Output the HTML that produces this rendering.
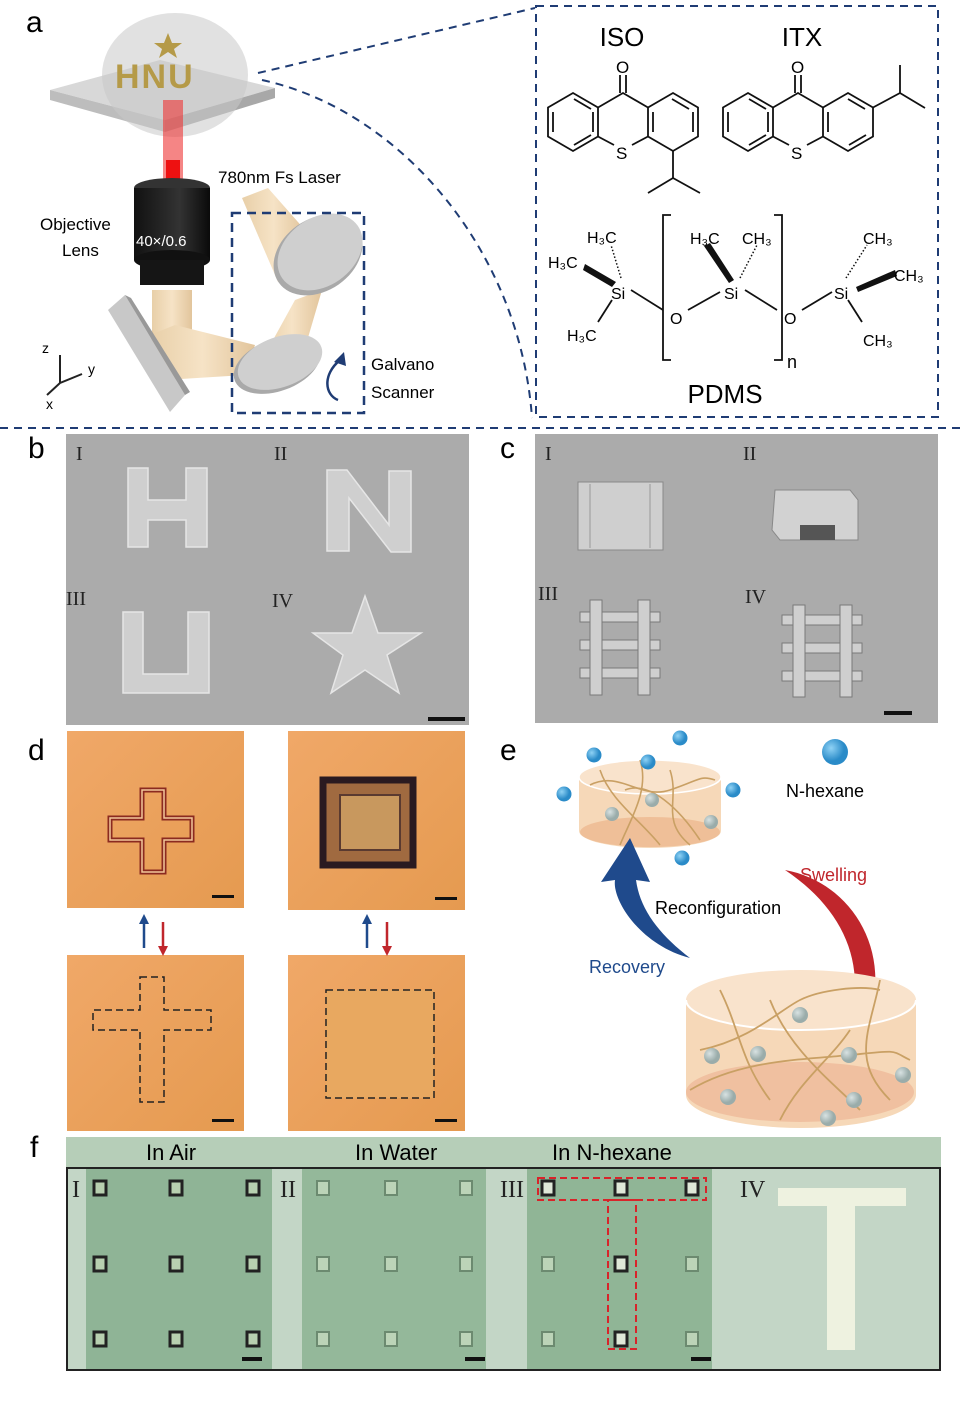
<!DOCTYPE html>
<html><head><meta charset="utf-8"><style>
html,body{margin:0;padding:0;background:#fff}
svg{display:block}
text{font-family:"Liberation Sans",sans-serif}
text.ser{font-family:"Liberation Serif",serif}
</style></head><body>
<svg width="960" height="1425" viewBox="0 0 960 1425" xmlns="http://www.w3.org/2000/svg">
<defs>
<linearGradient id="beam" x1="0" x2="1"><stop offset="0" stop-color="#e8cfa8"/><stop offset="0.5" stop-color="#f6e3c6"/><stop offset="1" stop-color="#e2c59c"/></linearGradient>
<linearGradient id="obj" x1="0" x2="1"><stop offset="0" stop-color="#111"/><stop offset="0.6" stop-color="#333"/><stop offset="1" stop-color="#0a0a0a"/></linearGradient>
<radialGradient id="ball" cx="0.35" cy="0.35"><stop offset="0" stop-color="#8fd2f5"/><stop offset="1" stop-color="#2a8bc8"/></radialGradient>
<radialGradient id="gball" cx="0.35" cy="0.35"><stop offset="0" stop-color="#d8e2e2"/><stop offset="1" stop-color="#9aacaa"/></radialGradient>
<linearGradient id="org" x1="0" y1="0" x2="1" y2="1"><stop offset="0" stop-color="#f0a868"/><stop offset="1" stop-color="#e59a50"/></linearGradient>
</defs>

<!-- ===== Panel a ===== -->
<text x="26" y="32" font-size="30">a</text>
<polygon points="50,90 160,60 275,88 165,120" fill="#d8d8d8"/>
<polygon points="50,90 165,120 165,132 50,100" fill="#bdbdbd"/>
<polygon points="165,120 275,88 275,98 165,132" fill="#a8a8a8"/>
<ellipse cx="175" cy="75" rx="73" ry="62" fill="#c9c9c9" opacity="0.55"/>
<text x="115" y="88" font-size="34" font-weight="bold" fill="#b59a48" letter-spacing="2">HNU</text>
<polygon points="168,33 172,43 182,43 174,49 177,58 168,52 159,58 162,49 154,43 164,43" fill="#b59a48"/>
<rect x="163" y="100" width="20" height="80" fill="#e33" opacity="0.6"/>
<rect x="166" y="160" width="14" height="25" fill="#e11"/>
<ellipse cx="172" cy="188" rx="38" ry="10" fill="#333"/>
<rect x="134" y="188" width="76" height="72" fill="url(#obj)"/>
<ellipse cx="172" cy="260" rx="38" ry="10" fill="#111"/>
<rect x="140" y="260" width="64" height="25" fill="#151515"/>
<text x="136" y="246" font-size="15" fill="#fff">40×/0.6</text>
<text x="40" y="230" font-size="17">Objective</text>
<text x="62" y="256" font-size="17">Lens</text>
<text x="218" y="183" font-size="17">780nm Fs Laser</text>
<g fill="url(#beam)">
<polygon points="152,290 192,290 192,350 152,350"/>
<polygon points="150,335 175,325 255,345 245,375 165,380"/>
<polygon points="242,198 268,188 305,230 305,260 278,282"/>
<polygon points="295,300 322,290 300,365 262,360"/>
</g>
<polygon points="108,310 125,295 185,395 170,412" fill="#c8c8c8"/>
<polygon points="125,295 131,298 190,392 185,395" fill="#999"/>
<ellipse cx="318" cy="255" rx="48" ry="36" transform="rotate(-35 318 255)" fill="#a9a9a9"/>
<ellipse cx="320" cy="252" rx="46" ry="34" transform="rotate(-35 320 252)" fill="#cfcfcf"/>
<ellipse cx="277" cy="365" rx="45" ry="26" transform="rotate(-20 277 365)" fill="#a9a9a9"/>
<ellipse cx="280" cy="362" rx="44" ry="25" transform="rotate(-20 280 362)" fill="#cfcfcf"/>
<rect x="232" y="213" width="132" height="200" fill="none" stroke="#1f3c74" stroke-width="2.5" stroke-dasharray="9,6"/>
<path d="M338,400 C325,395 322,375 340,360" fill="none" stroke="#1f3c74" stroke-width="2.5"/>
<polygon points="344,352 346,366 334,362" fill="#1f3c74"/>
<text x="371" y="370" font-size="17">Galvano</text>
<text x="371" y="398" font-size="17">Scanner</text>
<g stroke="#222" stroke-width="2" fill="none"><line x1="60" y1="383" x2="60" y2="355"/><line x1="60" y1="383" x2="82" y2="374"/><line x1="60" y1="383" x2="47" y2="395"/></g>
<text x="42" y="353" font-size="14">z</text><text x="88" y="374" font-size="14">y</text><text x="46" y="409" font-size="14">x</text>
<path d="M258,73 L535,8" stroke="#1f3c74" stroke-width="2" stroke-dasharray="8,6" fill="none"/>
<path d="M262,80 C400,110 520,250 532,418" stroke="#1f3c74" stroke-width="2" stroke-dasharray="8,6" fill="none"/>
<rect x="536" y="6" width="402" height="411" fill="none" stroke="#1f3c74" stroke-width="2" stroke-dasharray="8,6"/>
<line x1="0" y1="428" x2="960" y2="428" stroke="#1f3c74" stroke-width="2" stroke-dasharray="8,6"/>

<!-- chemistry -->
<g font-size="26" text-anchor="middle"><text x="622" y="46">ISO</text><text x="802" y="46">ITX</text></g>
<g stroke="#111" stroke-width="1.8" fill="none">
<!-- ISO: centers 573,623,673 ; cy 122 r 29 -->
<polygon points="573,93 598,107.5 598,136.5 573,151 548,136.5 548,107.5"/>
<polygon points="673,93 698,107.5 698,136.5 673,151 648,136.5 648,107.5"/>
<polyline points="598,107.5 623,93 648,107.5"/>
<polyline points="598,136.5 614,145"/><polyline points="648,136.5 632,145"/>
<line x1="620" y1="75" x2="620" y2="93"/><line x1="626" y1="75" x2="626" y2="93"/>
<line x1="553" y1="112" x2="553" y2="132"/><line x1="574" y1="99" x2="591" y2="109"/><line x1="574" y1="145" x2="591" y2="135"/>
<line x1="593" y1="112" x2="593" y2="132"/><line x1="653" y1="112" x2="653" y2="132"/>
<line x1="672" y1="99" x2="689" y2="109"/><line x1="693" y1="112" x2="693" y2="132"/>
<line x1="673" y1="151" x2="673" y2="178"/><polyline points="648,193 673,178 700,193"/>
<!-- ITX: centers 748,798,848 -->
<polygon points="748,93 773,107.5 773,136.5 748,151 723,136.5 723,107.5"/>
<polygon points="848,93 873,107.5 873,136.5 848,151 823,136.5 823,107.5"/>
<polyline points="773,107.5 798,93 823,107.5"/>
<polyline points="773,136.5 789,145"/><polyline points="823,136.5 807,145"/>
<line x1="795" y1="75" x2="795" y2="93"/><line x1="801" y1="75" x2="801" y2="93"/>
<line x1="728" y1="112" x2="728" y2="132"/><line x1="749" y1="99" x2="766" y2="109"/><line x1="749" y1="145" x2="766" y2="135"/>
<line x1="768" y1="112" x2="768" y2="132"/><line x1="828" y1="112" x2="828" y2="132"/>
<line x1="848" y1="99" x2="865" y2="109"/><line x1="849" y1="145" x2="866" y2="135"/>
<polyline points="873,107.5 900,93 925,108"/><line x1="900" y1="93" x2="900" y2="65"/>
<!-- PDMS -->
<line x1="612" y1="300" x2="598" y2="322"/>
<line x1="631" y1="290" x2="663" y2="310"/>
<line x1="688" y1="310" x2="720" y2="292"/>
<line x1="745" y1="290" x2="777" y2="310"/>
<line x1="802" y1="310" x2="832" y2="292"/>
<line x1="848" y1="300" x2="862" y2="322"/>
<path d="M671,215 H663 V360 H671 M774,215 H782 V360 H774"/>
</g>
<g stroke="#111" stroke-width="1.5" stroke-dasharray="1.5,2">
<line x1="621" y1="278" x2="611" y2="245"/><line x1="740" y1="278" x2="757" y2="245"/><line x1="846" y1="278" x2="867" y2="245"/>
</g>
<polygon points="583,270 585,264 616,282 612,287" fill="#111"/>
<polygon points="704,246 710,243 734,280 729,283" fill="#111"/>
<polygon points="856,287 895,270 897,276 858,292" fill="#111"/>
<g font-size="16">
<text x="587" y="243">H₃C</text><text x="548" y="268">H₃C</text><text x="567" y="341">H₃C</text>
<text x="611" y="299">Si</text><text x="670" y="324">O</text><text x="724" y="299">Si</text>
<text x="690" y="244">H₃C</text><text x="742" y="244">CH₃</text>
<text x="784" y="324">O</text><text x="834" y="299">Si</text>
<text x="863" y="244">CH₃</text><text x="894" y="281">CH₃</text><text x="863" y="346">CH₃</text>
</g>
<text x="787" y="368" font-size="18">n</text>
<text x="616" y="159" font-size="17">S</text><text x="616" y="73" font-size="17">O</text>
<text x="791" y="159" font-size="17">S</text><text x="791" y="73" font-size="17">O</text>
<text x="725" y="403" font-size="26" text-anchor="middle">PDMS</text>

<!-- ===== Panel b ===== -->
<text x="28" y="458" font-size="30">b</text>
<rect x="66" y="434" width="403" height="291" fill="#ababab"/>
<g font-size="20" fill="#222">
<text class="ser" x="76" y="460">I</text><text class="ser" x="274" y="460">II</text><text class="ser" x="66" y="605">III</text><text class="ser" x="272" y="607">IV</text>
</g>
<g fill="#cfcfcf" stroke="#e6e6e6" stroke-width="1.5">
<path d="M128,468 h20 v32 h38 v-32 h21 v79 h-21 v-27 h-38 v27 h-20z"/>
<path d="M327,470 h20 l42,55 v-54 h22 v81 h-20 l-42,-54 v53 h-22z"/>
<path d="M123,612 h20 v62 h45 v-62 h21 v81 h-86z"/>
<polygon points="365,596 378,633 421,633 387,655 399,693 365,670 331,693 343,655 313,633 352,633"/>
</g>
<rect x="428" y="717" width="37" height="4" fill="#111"/>

<!-- ===== Panel c ===== -->
<text x="500" y="458" font-size="30">c</text>
<rect x="535" y="434" width="403" height="289" fill="#ababab"/>
<g font-size="20" fill="#222">
<text class="ser" x="545" y="460">I</text><text class="ser" x="743" y="460">II</text><text class="ser" x="538" y="600">III</text><text class="ser" x="745" y="603">IV</text>
</g>
<rect x="578" y="482" width="85" height="68" fill="#cfcfcf" stroke="#888"/>
<g stroke="#999"><line x1="590" y1="484" x2="590" y2="548"/><line x1="650" y1="484" x2="650" y2="548"/></g>
<polygon points="775,490 850,490 858,500 858,540 780,540 772,530" fill="#d2d2d2" stroke="#888"/>
<rect x="800" y="525" width="35" height="15" fill="#555"/>
<g fill="#cfcfcf" stroke="#7a7a7a">
<rect x="580" y="612" width="80" height="10"/><rect x="580" y="640" width="80" height="10"/><rect x="580" y="668" width="80" height="10"/>
<rect x="590" y="600" width="12" height="95"/><rect x="638" y="600" width="12" height="95"/>
<rect x="782" y="615" width="80" height="10"/><rect x="782" y="643" width="80" height="10"/><rect x="782" y="671" width="80" height="10"/>
<rect x="793" y="605" width="12" height="92"/><rect x="840" y="605" width="12" height="92"/>
</g>
<rect x="884" y="711" width="28" height="4" fill="#111"/>

<!-- ===== Panel d ===== -->
<text x="28" y="760" font-size="30">d</text>
<rect x="67" y="731" width="177" height="177" fill="url(#org)"/>
<rect x="288" y="731" width="177" height="179" fill="url(#org)"/>
<rect x="67" y="955" width="177" height="176" fill="url(#org)"/>
<rect x="288" y="955" width="177" height="176" fill="url(#org)"/>
<path d="M142,790 h22 v28 h28 v22 h-28 v32 h-22 v-32 h-32 v-22 h32z" fill="none" stroke="#8b2a20" stroke-width="5"/>
<path d="M142,790 h22 v28 h28 v22 h-28 v32 h-22 v-32 h-32 v-22 h32z" fill="none" stroke="#f3c89a" stroke-width="1.5"/>
<rect x="323" y="780" width="90" height="85" fill="#a06a40" stroke="#2a1a20" stroke-width="7"/>
<rect x="340" y="795" width="60" height="55" fill="#c8985e" stroke="#5a3a30" stroke-width="2"/>
<path d="M140,977 h24 v33 h47 v20 h-47 v72 h-24 v-72 h-47 v-20 h47z" fill="none" stroke="#222" stroke-width="1.5" stroke-dasharray="7,4"/>
<rect x="326" y="990" width="108" height="108" fill="#e8a860" stroke="#222" stroke-width="1.5" stroke-dasharray="7,4"/>
<g fill="#111"><rect x="212" y="895" width="22" height="3"/><rect x="435" y="897" width="22" height="3"/><rect x="212" y="1119" width="22" height="3"/><rect x="435" y="1119" width="22" height="3"/></g>
<g stroke-width="2.5"><line x1="144" y1="948" x2="144" y2="922" stroke="#1f4a8c"/><line x1="163" y1="922" x2="163" y2="948" stroke="#c0262c"/>
<line x1="367" y1="948" x2="367" y2="922" stroke="#1f4a8c"/><line x1="387" y1="922" x2="387" y2="948" stroke="#c0262c"/></g>
<polygon points="139,924 149,924 144,914" fill="#1f4a8c"/><polygon points="158,946 168,946 163,956" fill="#c0262c"/>
<polygon points="362,924 372,924 367,914" fill="#1f4a8c"/><polygon points="382,946 392,946 387,956" fill="#c0262c"/>

<!-- ===== Panel e ===== -->
<text x="500" y="760" font-size="30">e</text>
<path d="M579,780 V831 A71,17 0 0 0 721,831 V780" fill="#f6d8b8"/>
<ellipse cx="650" cy="832" rx="70" ry="15" fill="#efbf98"/>
<ellipse cx="650" cy="777" rx="71" ry="17" fill="#f9e3cc" stroke="#fff" stroke-width="1.5"/>
<g stroke="#c9a064" stroke-width="1.6" fill="none">
<path d="M590,785 C620,770 640,800 670,790 S700,775 715,780"/>
<path d="M600,770 C610,800 640,820 660,845"/>
<path d="M625,790 C650,780 680,810 700,840"/>
<path d="M640,760 C650,790 630,820 620,845"/>
<path d="M670,770 C680,800 660,820 690,845"/>
</g>
<g fill="url(#gball)"><circle cx="652" cy="800" r="7"/><circle cx="612" cy="814" r="7"/><circle cx="711" cy="822" r="7"/></g>
<g fill="url(#ball)"><circle cx="680" cy="738" r="7.5"/><circle cx="594" cy="755" r="7.5"/><circle cx="648" cy="762" r="7.5"/><circle cx="564" cy="794" r="7.5"/><circle cx="733" cy="790" r="7.5"/><circle cx="682" cy="858" r="7.5"/><circle cx="835" cy="752" r="13"/></g>
<text x="786" y="797" font-size="18">N-hexane</text>
<path d="M690,958 C640,945 612,900 615,880 L601,882 L630,838 L650,882 L636,880 C640,910 660,935 690,958z" fill="#1f4a8c"/>
<path d="M785,870 C840,880 880,930 875,990 L893,985 L858,1040 L840,982 L855,985 C855,940 830,900 785,870z" fill="#c0262c"/>
<text x="655" y="914" font-size="18">Reconfiguration</text>
<text x="589" y="973" font-size="18" fill="#1f4a8c">Recovery</text>
<text x="800" y="881" font-size="18" fill="#c0262c">Swelling</text>
<path d="M686,1000 V1095 A115,33 0 0 0 916,1095 V1000" fill="#f6d8b8"/>
<ellipse cx="800" cy="1092" rx="114" ry="30" fill="#f0c0a0"/>
<ellipse cx="801" cy="1000" rx="115" ry="30" fill="#f9e3cc"/>
<path d="M686,1000 A115,30 0 0 0 916,1000" fill="none" stroke="#fff" stroke-width="2"/>
<g stroke="#c9a064" stroke-width="1.8" fill="none">
<path d="M700,1050 C750,1040 780,1010 800,1000 S860,985 880,990"/>
<path d="M690,1090 C740,1060 800,1060 850,1055 S890,1050 910,1060"/>
<path d="M720,990 C740,1030 740,1060 770,1100"/>
<path d="M770,1000 C790,1050 830,1080 860,1110"/>
<path d="M850,1030 C830,1060 800,1080 780,1120"/>
<path d="M880,980 C870,1030 850,1060 890,1100"/>
</g>
<g fill="url(#gball)"><circle cx="800" cy="1015" r="8"/><circle cx="712" cy="1056" r="8"/><circle cx="758" cy="1054" r="8"/><circle cx="849" cy="1055" r="8"/><circle cx="903" cy="1075" r="8"/><circle cx="728" cy="1097" r="8"/><circle cx="854" cy="1100" r="8"/><circle cx="828" cy="1118" r="8"/></g>

<!-- ===== Panel f ===== -->
<text x="30" y="1157" font-size="30">f</text>
<rect x="66" y="1137" width="875" height="31" fill="#b6ceb8"/>
<g font-size="22"><text x="146" y="1160">In Air</text><text x="355" y="1160">In Water</text><text x="552" y="1160">In N-hexane</text></g>
<rect x="67" y="1168" width="873" height="202" fill="#c3d6c6" stroke="#222" stroke-width="2"/>
<rect x="86" y="1169" width="186" height="200" fill="#8fb496"/>
<rect x="302" y="1169" width="184" height="200" fill="#94b89a"/>
<rect x="527" y="1169" width="185" height="200" fill="#90b596"/>
<g font-size="24" fill="#222"><text class="ser" x="72" y="1197">I</text><text class="ser" x="280" y="1197">II</text><text class="ser" x="500" y="1197">III</text><text class="ser" x="740" y="1197">IV</text></g>
<g fill="#b8d0b0" stroke="#222" stroke-width="3">
<rect x="94" y="1181" width="12" height="14"/><rect x="170" y="1181" width="12" height="14"/><rect x="247" y="1181" width="12" height="14"/>
<rect x="94" y="1257" width="12" height="14"/><rect x="170" y="1257" width="12" height="14"/><rect x="247" y="1257" width="12" height="14"/>
<rect x="94" y="1332" width="12" height="14"/><rect x="170" y="1332" width="12" height="14"/><rect x="247" y="1332" width="12" height="14"/>
</g>
<g fill="#bcd4b8" stroke="#6c8a70" stroke-width="2">
<rect x="317" y="1181" width="12" height="14"/><rect x="385" y="1181" width="12" height="14"/><rect x="460" y="1181" width="12" height="14"/>
<rect x="317" y="1257" width="12" height="14"/><rect x="385" y="1257" width="12" height="14"/><rect x="460" y="1257" width="12" height="14"/>
<rect x="317" y="1332" width="12" height="14"/><rect x="385" y="1332" width="12" height="14"/><rect x="460" y="1332" width="12" height="14"/>
<rect x="542" y="1257" width="12" height="14"/><rect x="686" y="1257" width="12" height="14"/>
<rect x="542" y="1332" width="12" height="14"/><rect x="686" y="1332" width="12" height="14"/>
</g>
<g fill="#dfe8d8" stroke="#222" stroke-width="3">
<rect x="542" y="1181" width="12" height="14"/><rect x="615" y="1181" width="12" height="14"/><rect x="686" y="1181" width="12" height="14"/>
<rect x="615" y="1257" width="12" height="14"/><rect x="615" y="1332" width="12" height="14"/>
</g>
<g fill="none" stroke="#d8242a" stroke-width="2" stroke-dasharray="7,4">
<rect x="538" y="1178" width="168" height="22"/><rect x="608" y="1200" width="28" height="149"/>
</g>
<rect x="778" y="1188" width="128" height="18" fill="#eef2e0"/>
<rect x="827" y="1188" width="28" height="162" fill="#eef2e0"/>
<g fill="#111"><rect x="242" y="1357" width="20" height="4"/><rect x="465" y="1357" width="20" height="4"/><rect x="691" y="1357" width="20" height="4"/></g>
</svg>
</body></html>
